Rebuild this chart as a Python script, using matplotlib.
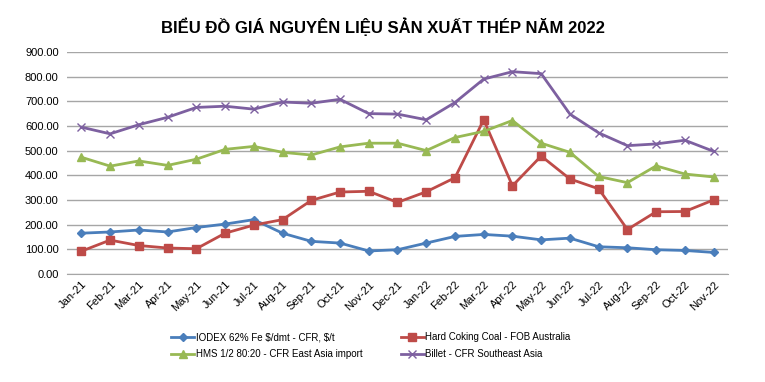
import numpy as np
import matplotlib
matplotlib.use('Agg')
import matplotlib.pyplot as plt
from matplotlib.ticker import FormatStrFormatter

plt.rcParams['font.family'] = ['Liberation Sans', 'DejaVu Sans']

months = ['Jan-21', 'Feb-21', 'Mar-21', 'Apr-21', 'May-21', 'Jun-21', 'Jul-21', 'Aug-21',
          'Sep-21', 'Oct-21', 'Nov-21', 'Dec-21', 'Jan-22', 'Feb-22', 'Mar-22', 'Apr-22',
          'May-22', 'Jun-22', 'Jul-22', 'Aug-22', 'Sep-22', 'Oct-22', 'Nov-22']

iodex = [165, 170, 178, 170, 188, 202, 220, 165, 132, 125, 93, 98, 125, 152, 160, 153,
         138, 145, 110, 106, 98, 95, 87]
coal = [92, 137, 115, 105, 102, 165, 198, 220, 298, 332, 335, 290, 333, 390, 625, 357,
        478, 385, 345, 180, 252, 253, 300]
hms = [473, 437, 458, 440, 465, 505, 517, 493, 482, 515, 530, 530, 500, 553, 578, 622,
       530, 493, 395, 370, 438, 405, 393]
billet = [595, 568, 605, 635, 675, 680, 668, 697, 692, 708, 650, 648, 625, 695, 790, 820,
          812, 648, 572, 520, 527, 542, 497]

labels = [r'IODEX 62% Fe \$/dmt - CFR, \$/t', 'Hard Coking Coal - FOB Australia',
          'HMS 1/2 80:20 - CFR East Asia import', 'Billet - CFR Southeast Asia']

fig = plt.figure(figsize=(7.65, 3.82), dpi=100)
ax = fig.add_axes([0.0876, 0.283, 0.864, 0.581])

x = np.arange(len(months))
l1, = ax.plot(x, iodex, color='#4A7EBB', lw=2, marker='D', ms=4, label=labels[0])
l2, = ax.plot(x, coal, color='#BE4B48', lw=2, marker='s', ms=6, label=labels[1])
l3, = ax.plot(x, hms, color='#98B954', lw=2, marker='^', ms=6, label=labels[2])
l4, = ax.plot(x, billet, color='#7D60A0', lw=2, marker='x', ms=6, mew=1, label=labels[3])

ax.set_xlim(-0.5, len(months) - 0.5)
ax.set_ylim(0, 900)
ax.set_yticks(np.arange(0, 901, 100))
ax.yaxis.set_major_formatter(FormatStrFormatter('%.2f'))
ax.set_xticks(x)
ax.set_xticklabels(months, rotation=45, ha='right', rotation_mode='anchor', fontsize=8)
ax.tick_params(axis='y', labelsize=8, length=0, pad=6)
ax.tick_params(axis='x', length=0, pad=4)
ax.grid(axis='y', color='#A6A6A6', lw=1)
ax.set_axisbelow(True)
for s in ['top', 'right', 'left']:
    ax.spines[s].set_visible(False)
ax.spines['bottom'].set_color('#A6A6A6')

fig.text(0.5, 0.93, 'BIỂU ĐỒ GIÁ NGUYÊN LIỆU SẢN XUẤT THÉP NĂM 2022',
         ha='center', va='center', fontsize=12, fontweight='bold')

fig.legend([l1, l3, l2, l4], [labels[0], labels[2], labels[1], labels[3]],
           loc='center', bbox_to_anchor=(0.485, 0.095), ncol=2, frameon=False,
           fontsize=7, handlelength=2.3, handletextpad=0.2, columnspacing=4.0,
           labelspacing=0.75)

fig.savefig('out.png', dpi=100)
